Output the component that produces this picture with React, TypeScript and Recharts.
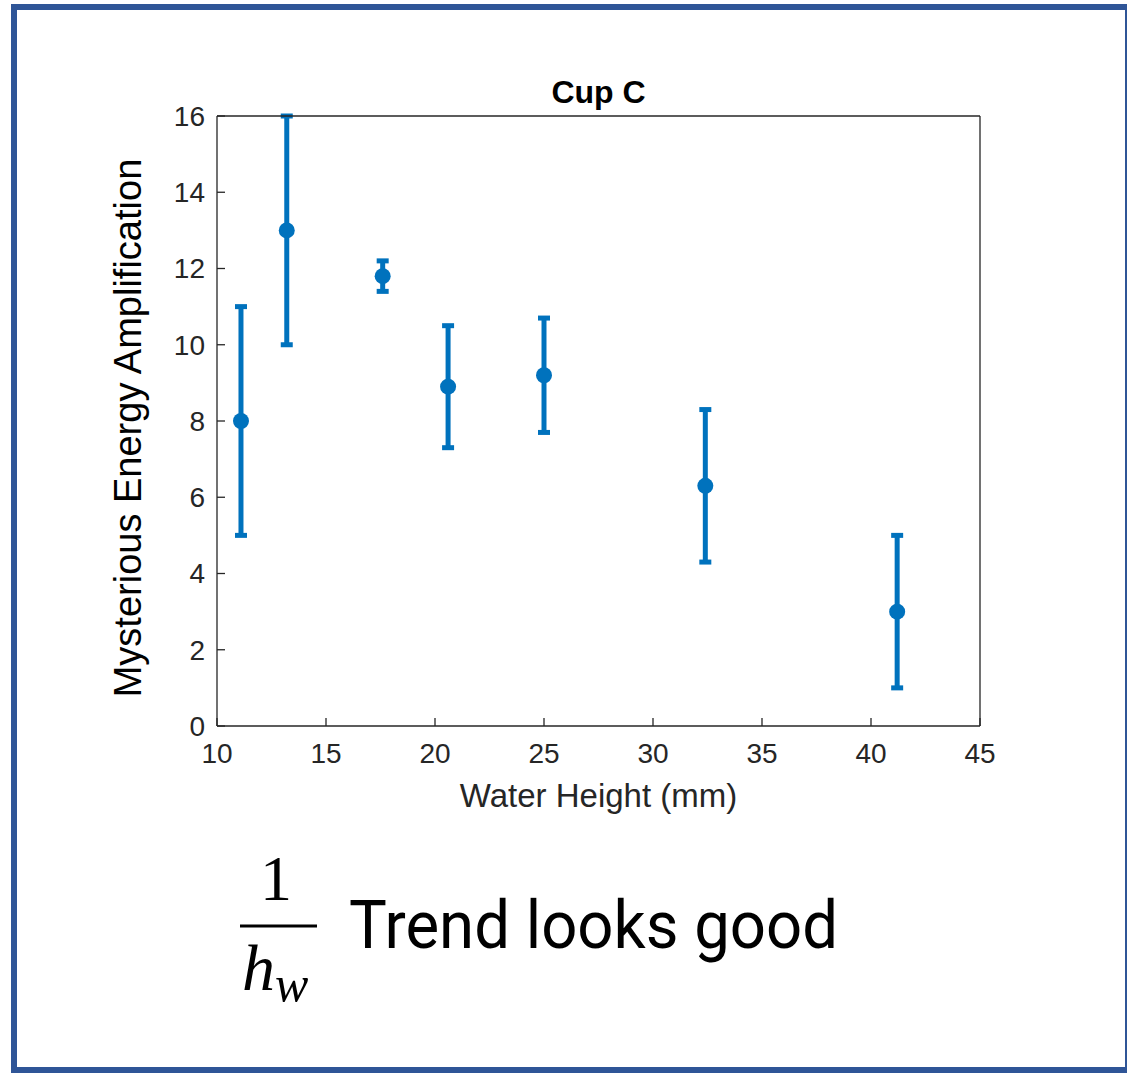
import { ScatterChart, Scatter, XAxis, YAxis, ErrorBar } from 'recharts'

// readings for Cup C
const waterHeight = [11.1, 13.2, 17.6, 20.6, 25.0, 32.4, 41.2]
const amplification = [8.0, 13.0, 11.8, 8.9, 9.2, 6.3, 3.0]
const amplificationErr = [3.0, 3.0, 0.4, 1.6, 1.5, 2.0, 2.0]

const xTicks = [10, 15, 20, 25, 30, 35, 40, 45]
const yTicks = [0, 2, 4, 6, 8, 10, 12, 14, 16]

const BLUE = '#0072BD'
const AXIS = '#262626'
const FONT = '"Liberation Sans", Arial, Helvetica, sans-serif'

const data = waterHeight.map((h, i) => ({
  h,
  amp: amplification[i],
  err: amplificationErr[i],
}))

function Dot(props: any) {
  const { cx, cy } = props
  return <circle cx={cx} cy={cy} r={8} fill={BLUE} />
}

function YLabel(props: any) {
  const vb = props.viewBox
  const cx = vb.x + 44
  const cy = vb.y + vb.height / 2 + 7
  return (
    <text
      x={cx}
      y={cy}
      transform={`rotate(-90 ${cx} ${cy})`}
      textAnchor="middle"
      fontSize={38}
      fill="#000"
      fontFamily={FONT}
    >
      Mysterious Energy Amplification
    </text>
  )
}

export default function App() {
  const tickStyle = { fontSize: 28, fill: AXIS, fontFamily: FONT }
  const lineStyle = { stroke: AXIS, strokeWidth: 1.3 }

  return (
    <div
      style={{
        position: 'absolute',
        left: 0,
        top: 0,
        width: 1127,
        height: 1074,
        background: '#fff',
        overflow: 'hidden',
      }}
    >
      <div
        style={{
          position: 'absolute',
          left: 11,
          top: 4,
          width: 1120,
          height: 1069,
          boxSizing: 'border-box',
          border: '6px solid #2F5597',
        }}
      />
      <div style={{ position: 'absolute', left: 0, top: 0 }}>
        <ScatterChart
          width={1127}
          height={840}
          margin={{ top: 106, right: 137, bottom: 14, left: 97 }}
          style={{ fontFamily: FONT }}
        >
          <XAxis
            xAxisId={0}
            type="number"
            dataKey="h"
            domain={[10, 45]}
            ticks={xTicks}
            allowDataOverflow
            height={100}
            tickSize={-8}
            tickMargin={25}
            tick={tickStyle}
            tickLine={lineStyle}
            axisLine={lineStyle}
            label={{
              value: 'Water Height (mm)',
              position: 'insideBottom',
              offset: 19,
              fontSize: 33,
              fill: AXIS,
              fontFamily: FONT,
            }}
          />
          <XAxis
            xAxisId="top"
            orientation="top"
            type="number"
            domain={[10, 45]}
            ticks={xTicks}
            allowDataOverflow
            height={10}
            tickSize={-8}
            tick={false}
            tickLine={lineStyle}
            axisLine={lineStyle}
            label={{
              value: 'Cup C',
              position: 'top',
              offset: 3,
              fontSize: 32,
              fontWeight: 'bold',
              fill: '#000',
              fontFamily: FONT,
            }}
          />
          <YAxis
            yAxisId={0}
            type="number"
            dataKey="amp"
            domain={[0, 16]}
            ticks={yTicks}
            allowDataOverflow
            width={120}
            tickSize={-8}
            tickMargin={20}
            tick={tickStyle}
            tickLine={lineStyle}
            axisLine={lineStyle}
            label={{ content: <YLabel /> }}
          />
          <YAxis
            yAxisId="right"
            orientation="right"
            type="number"
            domain={[0, 16]}
            ticks={yTicks}
            allowDataOverflow
            width={10}
            tickSize={-8}
            tick={false}
            tickLine={lineStyle}
            axisLine={lineStyle}
          />
          <Scatter
            xAxisId={0}
            yAxisId={0}
            data={data}
            fill={BLUE}
            shape={<Dot />}
            isAnimationActive={false}
          >
            <ErrorBar
              dataKey="err"
              direction="y"
              width={6}
              strokeWidth={5}
              stroke={BLUE}
              isAnimationActive={false}
            />
          </Scatter>
        </ScatterChart>
      </div>
      <svg
        width={1127}
        height={1074}
        style={{ position: 'absolute', left: 0, top: 0, pointerEvents: 'none' }}
      >
        <text x={276} y={900} textAnchor="middle" fontSize={64} fontFamily='"Liberation Serif", serif'>
          1
        </text>
        <line x1={240} x2={317} y1={926} y2={926} stroke="#000" strokeWidth={3} />
        <text x={242} y={990} fontSize={66} fontStyle="italic" fontFamily='"Liberation Serif", serif'>
          h
        </text>
        <text x={275} y={1001} fontSize={50} fontStyle="italic" fontFamily='"Liberation Serif", serif'>
          w
        </text>
        <text
          x={349}
          y={948}
          fontSize={67}
          textLength={489}
          lengthAdjust="spacingAndGlyphs"
          fontFamily="Roboto, sans-serif"
        >
          Trend looks good
        </text>
      </svg>
    </div>
  )
}
